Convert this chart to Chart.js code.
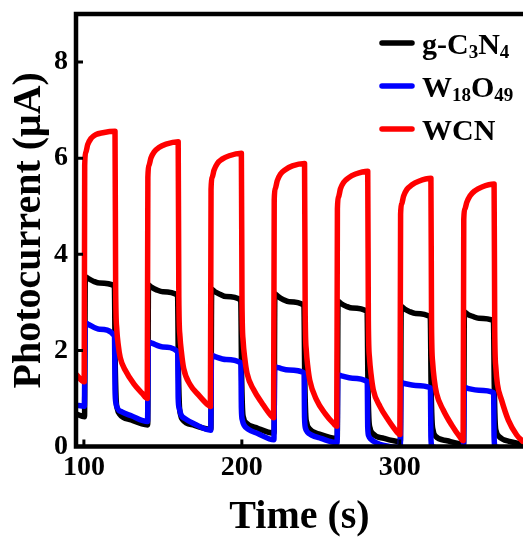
<!DOCTYPE html>
<html>
<head>
<meta charset="utf-8">
<script src="https://cdn.jsdelivr.net/npm/chart.js@4.4.1/dist/chart.umd.min.js"></script>
<style>
  html, body { margin: 0; padding: 0; background: #fff; }
  #wrap { width: 523px; height: 541px; }
</style>
</head>
<body>
<div id="wrap"><canvas id="photoChart" width="523" height="541"></canvas></div>
<script>
// [time (s), photocurrent (uA)]
const gcnPoints = [
    [95, 0.68], [100.4, 0.62],
    [100.9, 3.53], [103, 3.49], [106, 3.44], [110, 3.4], [119.3, 3.34],
    [119.8, 1.8], [120.4, 1.0], [121.2, 0.78], [122.5, 0.68], [130, 0.55], [140.4, 0.45],
    [140.9, 3.36], [143, 3.31], [146, 3.26], [150, 3.22], [159.3, 3.15],
    [159.8, 1.7], [160.4, 0.9], [161.2, 0.66], [162.5, 0.56], [170, 0.44], [180.4, 0.36],
    [180.9, 3.27], [183, 3.22], [186, 3.17], [190, 3.12], [199.3, 3.05],
    [199.8, 1.6], [200.4, 0.8], [201.2, 0.58], [202.5, 0.5], [210, 0.38], [220.4, 0.28],
    [220.9, 3.18], [223, 3.12], [226, 3.06], [230, 3.01], [239.3, 2.94],
    [239.8, 1.5], [240.4, 0.7], [241.2, 0.48], [242.5, 0.38], [250, 0.25], [260.4, 0.17],
    [260.9, 3.02], [263, 2.97], [266, 2.92], [270, 2.88], [279.3, 2.81],
    [279.8, 1.4], [280.4, 0.6], [281.2, 0.38], [282.5, 0.28], [290, 0.17], [300.4, 0.1],
    [300.9, 2.92], [303, 2.86], [306, 2.81], [310, 2.77], [319.3, 2.7],
    [319.8, 1.3], [320.4, 0.55], [321.2, 0.32], [322.5, 0.22], [330, 0.12], [340.4, 0.05],
    [340.9, 2.8], [343, 2.75], [346, 2.71], [350, 2.67], [359.3, 2.62],
    [359.8, 1.3], [360.4, 0.5], [361.2, 0.3], [362.5, 0.22], [370, 0.1], [378, 0.05]
];

const w18o49Points = [
    [95, 0.86], [100.3, 0.84],
    [100.8, 2.58], [103, 2.54], [110, 2.44], [119.4, 2.3],
    [119.7, 1.2], [120.3, 0.9], [121.5, 0.78], [124, 0.72], [130, 0.64], [140.3, 0.52],
    [140.8, 2.18], [143, 2.15], [150, 2.07], [159.4, 1.97],
    [159.7, 1.0], [160.3, 0.8], [161.5, 0.66], [164, 0.58], [170, 0.47], [180.3, 0.34],
    [180.8, 1.9], [183, 1.87], [190, 1.81], [199.4, 1.74],
    [199.7, 0.8], [200.3, 0.55], [201.5, 0.44], [204, 0.36], [210, 0.27], [220.3, 0.14],
    [220.8, 1.66], [223, 1.64], [230, 1.59], [239.4, 1.53],
    [239.7, 0.6], [240.3, 0.38], [241.5, 0.3], [244, 0.24], [250, 0.17], [260.3, 0.08],
    [260.8, 1.49], [263, 1.47], [270, 1.42], [279.4, 1.35],
    [279.7, 0.4], [280.3, 0.22], [281.5, 0.16], [285, 0.08], [290, 0.02], [300.3, -0.02],
    [300.8, 1.33], [303, 1.31], [310, 1.27], [319.4, 1.22],
    [319.7, 0.2], [320.3, 0.0], [330, -0.05], [340.3, -0.08],
    [340.8, 1.23], [343, 1.21], [350, 1.17], [359.4, 1.12],
    [359.7, 0.2], [360.3, 0.0], [370, -0.05], [378, -0.08]
];

const wcnPoints = [
    [95, 1.5], [100.2, 1.35],
    [100.5, 5.85], [101.2, 6.12], [102.4, 6.28], [104.5, 6.41], [107.5, 6.49], [112, 6.53], [119.7, 6.56],
    [120.1, 3.3], [120.8, 2.45], [121.8, 2.1], [123, 1.85], [126.3, 1.58], [131.5, 1.31], [136.8, 1.11], [140.1, 1.0],
    [140.5, 5.6], [141.2, 5.85], [142.4, 6.0], [144.5, 6.13], [147.5, 6.22], [152, 6.29], [159.7, 6.34],
    [160.1, 3.1], [160.8, 2.3], [161.8, 1.95], [163.2, 1.62], [167.4, 1.28], [172.7, 1.07], [178, 0.88], [180.1, 0.83],
    [180.5, 5.35], [181.2, 5.6], [182.4, 5.75], [184.5, 5.89], [187.5, 5.98], [192, 6.05], [199.7, 6.1],
    [200.1, 3.0], [200.8, 2.2], [201.8, 1.85], [203.3, 1.52], [207.5, 1.18], [212.8, 0.9], [218, 0.66], [220.1, 0.6],
    [220.5, 5.13], [221.2, 5.37], [222.4, 5.53], [224.5, 5.67], [227.5, 5.76], [232, 5.84], [239.7, 5.89],
    [240.1, 2.8], [240.8, 2.0], [241.8, 1.65], [243, 1.38], [247.3, 0.97], [252.6, 0.69], [258, 0.48], [260.1, 0.42],
    [260.5, 4.95], [261.2, 5.19], [262.4, 5.36], [264.5, 5.5], [267.5, 5.59], [272, 5.67], [279.7, 5.73],
    [280.1, 2.6], [280.8, 1.85], [281.8, 1.5], [283.2, 1.18], [287.5, 0.83], [292.7, 0.55], [298, 0.31], [300.1, 0.25],
    [300.5, 4.83], [301.2, 5.05], [302.4, 5.21], [304.5, 5.35], [307.5, 5.44], [312, 5.52], [319.7, 5.58],
    [320.1, 2.5], [320.8, 1.75], [321.8, 1.4], [323.3, 1.1], [327.5, 0.76], [332.8, 0.45], [338, 0.2], [340.1, 0.12],
    [340.5, 4.73], [341.2, 4.94], [342.4, 5.08], [344.5, 5.22], [347.5, 5.32], [352, 5.4], [359.7, 5.46],
    [360.1, 2.4], [360.8, 1.65], [361.8, 1.3], [364.4, 0.97], [368.7, 0.55], [374, 0.24], [378, 0.1]
];

const xTicks = [100, 200, 300];
const yTicks = [0, 2, 4, 6, 8];

// legend entries: main text pieces and subscripts
const legendItems = [
    { color: '#000000', parts: [['g-C', false], ['3', true], ['N', false], ['4', true]] },
    { color: '#0000ff', parts: [['W', false], ['18', true], ['O', false], ['49', true]] },
    { color: '#ff0000', parts: [['WCN', false]] }
];

const FONT = "'Liberation Serif', 'Times New Roman', serif";
const toXY = (pts) => pts.map(p => ({ x: p[0], y: p[1] }));

const framePlugin = {
    id: 'frame',
    afterDatasetsDraw(chart) {
        const { ctx, chartArea: a, scales } = chart;
        ctx.save();
        ctx.strokeStyle = '#000';
        ctx.lineWidth = 4.5;
        ctx.lineCap = 'butt';
        ctx.beginPath();
        ctx.moveTo(a.left, a.bottom + 2.25);
        ctx.lineTo(a.left, a.top - 2.25);
        ctx.moveTo(a.left - 2.25, a.top);
        ctx.lineTo(chart.width, a.top);
        ctx.moveTo(a.left - 2.25, a.bottom);
        ctx.lineTo(chart.width, a.bottom);
        ctx.stroke();

        // inward tick marks
        ctx.lineWidth = 3;
        ctx.beginPath();
        yTicks.forEach(v => {
            const y = scales.y.getPixelForValue(v);
            ctx.moveTo(a.left, y);
            ctx.lineTo(a.left + 7, y);
        });
        xTicks.forEach(v => {
            const x = scales.x.getPixelForValue(v);
            ctx.moveTo(x, a.bottom);
            ctx.lineTo(x, a.bottom - 7);
        });
        ctx.stroke();

        // legend with subscripts
        const lineX0 = 382, lineX1 = 412, textX = 422;
        const rows = [43, 86, 129];
        legendItems.forEach((item, i) => {
            const cy = rows[i];
            ctx.strokeStyle = item.color;
            ctx.lineWidth = 5.5;
            ctx.lineCap = 'round';
            ctx.beginPath();
            ctx.moveTo(lineX0, cy);
            ctx.lineTo(lineX1, cy);
            ctx.stroke();

            let x = textX;
            ctx.fillStyle = '#000';
            ctx.textBaseline = 'alphabetic';
            ctx.textAlign = 'left';
            item.parts.forEach(([txt, sub]) => {
                ctx.font = sub ? `bold 19px ${FONT}` : `bold 30px ${FONT}`;
                ctx.fillText(txt, x, cy + (sub ? 15 : 11));
                x += ctx.measureText(txt).width;
            });
        });
        ctx.restore();
    }
};

const lineStyle = (color) => ({
    borderColor: color,
    backgroundColor: color,
    borderWidth: 5.5,
    pointRadius: 0,
    fill: false,
    cubicInterpolationMode: 'monotone',
    borderJoinStyle: 'round',
    borderCapStyle: 'round'
});

const ctx = document.getElementById('photoChart').getContext('2d');
new Chart(ctx, {
    type: 'line',
    data: {
        datasets: [
            { label: 'g-C3N4', data: toXY(gcnPoints), order: 2, ...lineStyle('#000000') },
            { label: 'W18O49', data: toXY(w18o49Points), order: 1, ...lineStyle('#0000ff') },
            { label: 'WCN', data: toXY(wcnPoints), order: 0, ...lineStyle('#ff0000') }
        ]
    },
    options: {
        responsive: false,
        devicePixelRatio: 1,
        animation: false,
        layout: { padding: { top: 14, left: 0, right: 0, bottom: 0 } },
        plugins: {
            legend: { display: false },
            tooltip: { enabled: false }
        },
        scales: {
            x: {
                type: 'linear',
                min: 95,
                max: 378,
                grid: { display: false, drawTicks: false },
                border: { display: false },
                ticks: {
                    stepSize: 100,
                    includeBounds: false,
                    padding: 4,
                    color: '#000',
                    font: { family: FONT, size: 28, weight: 'bold' }
                },
                title: {
                    display: true,
                    text: 'Time (s)',
                    color: '#000',
                    padding: { top: 14, bottom: 3 },
                    font: { family: FONT, size: 40, weight: 'bold', lineHeight: 1 }
                },
                afterFit(scale) {
                    scale.height = 94.5;
                    scale.paddingLeft = 0;
                    scale.paddingRight = 0;
                }
            },
            y: {
                min: 0,
                max: 9,
                grid: { display: false, drawTicks: false },
                border: { display: false },
                ticks: {
                    stepSize: 2,
                    includeBounds: false,
                    padding: 8,
                    color: '#000',
                    font: { family: FONT, size: 28, weight: 'bold' }
                },
                title: {
                    display: true,
                    text: 'Photocurrent (\u03bcA)',
                    color: '#000',
                    padding: { top: 10, bottom: 4 },
                    font: { family: FONT, size: 40, weight: 'bold', lineHeight: 1 }
                },
                afterFit(scale) {
                    scale.width = 76;
                    scale.paddingTop = 0;
                    scale.paddingBottom = 0;
                }
            }
        }
    },
    plugins: [framePlugin]
});
</script>
</body>
</html>
